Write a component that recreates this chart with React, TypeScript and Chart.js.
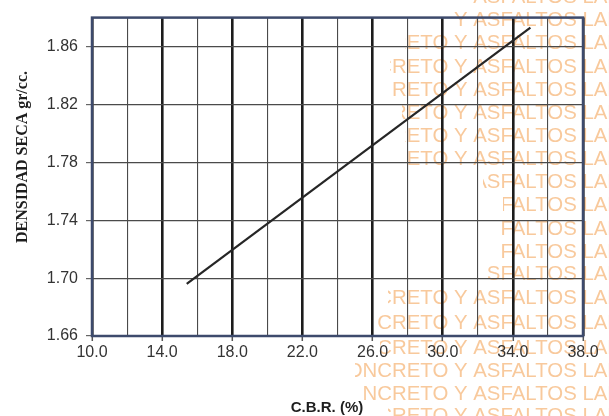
import React, { useEffect, useRef } from "react";
import { Chart, registerables } from "chart.js";

Chart.register(...registerables);

// ---- data ----
const xTickValues = [10, 12, 14, 16, 18, 20, 22, 24, 26, 28, 30, 32, 34, 36, 38];
const xLabelValues = [10, 14, 18, 22, 26, 30, 34, 38];
const yTickValues = [1.66, 1.7, 1.74, 1.78, 1.82, 1.86];
const lineX = [15.4, 35.0];
const lineY = [1.696, 1.873];

const xTitle = "C.B.R. (%)";
const yTitle = "DENSIDAD SECA gr/cc.";
const watermarkText = "CONCRETO Y ASFALTOS LABORATORIO";
// [row centre y, visible start x]
const watermarkRows: number[][] = [
  [-3, 470], [20, 452], [43, 405], [67, 390], [90, 393], [113, 402], [136, 405],
  [159, 408], [182, 483], [205, 503], [229, 500], [252, 500], [274, 488],
  [298, 388], [323, 378], [348, 380], [371, 355], [394, 362], [416, 388],
];

const SANS = "'Liberation Sans', Arial, sans-serif";
const SERIF = "'Liberation Serif', 'Times New Roman', serif";

const decorPlugin = {
  id: "decor",
  beforeDraw(chart: any) {
    const ctx = chart.ctx;
    ctx.save();
    ctx.font = `20.4px ${SANS}`;
    ctx.fillStyle = "rgba(244, 168, 96, 0.62)";
    ctx.textBaseline = "middle";
    ctx.textAlign = "left";
    for (const [y, start] of watermarkRows) {
      ctx.save();
      ctx.beginPath();
      ctx.rect(start, y - 14, chart.width - start, 28);
      ctx.clip();
      ctx.fillText(watermarkText, 332, y);
      ctx.restore();
    }
    ctx.restore();
  },
  afterDraw(chart: any) {
    const ctx = chart.ctx;
    const a = chart.chartArea;
    ctx.save();
    ctx.strokeStyle = "#3d4a6c";
    ctx.lineWidth = 2.5;
    ctx.strokeRect(a.left, a.top, a.right - a.left, a.bottom - a.top);

    ctx.fillStyle = "#1e1e1e";
    ctx.font = `bold 15px ${SANS}`;
    ctx.textAlign = "center";
    ctx.textBaseline = "alphabetic";
    ctx.fillText(xTitle, 327, 412);

    ctx.translate(27, 157);
    ctx.rotate(-Math.PI / 2);
    ctx.font = `bold 16px ${SERIF}`;
    ctx.fillText(yTitle, 0, 0);
    ctx.restore();
  },
};

export default function App() {
  const canvasRef = useRef<HTMLCanvasElement | null>(null);

  useEffect(() => {
    if (!canvasRef.current) return;
    const chart = new Chart(canvasRef.current, {
      type: "line",
      data: {
        datasets: [
          {
            data: lineX.map((x, i) => ({ x, y: lineY[i] })),
            borderColor: "#262626",
            borderWidth: 2.2,
            pointRadius: 0,
            fill: false,
            tension: 0,
          },
        ],
      },
      options: {
        animation: false,
        responsive: true,
        maintainAspectRatio: false,
        layout: { padding: { left: 0, top: 10, right: 26, bottom: 0 } },
        plugins: { legend: { display: false }, tooltip: { enabled: false } },
        scales: {
          x: {
            type: "linear",
            min: 10,
            max: 38,
            afterBuildTicks: (scale: any) => {
              scale.ticks = xTickValues.map((v) => ({ value: v }));
            },
            afterFit: (scale: any) => {
              scale.height = 80;
            },
            border: { display: false },
            grid: {
              color: (c: any) => ((c.tick?.value ?? 0) % 4 === 2 ? "#1c1c1c" : "#4a4a4a"),
              lineWidth: (c: any) => ((c.tick?.value ?? 0) % 4 === 2 ? 2.6 : 1.1),
              tickColor: (c: any) => ((c.tick?.value ?? 0) % 4 === 2 ? "#555" : "rgba(0,0,0,0)"),
              tickWidth: 1.5,
              tickLength: 5,
              drawTicks: true,
            },
            ticks: {
              autoSkip: false,
              maxRotation: 0,
              padding: 2,
              color: "#333",
              font: { family: SANS, size: 16 },
              callback: (v: any) => (xLabelValues.includes(Number(v)) ? Number(v).toFixed(1) : ""),
            },
          },
          y: {
            type: "linear",
            min: 1.66,
            max: 1.88,
            afterBuildTicks: (scale: any) => {
              scale.ticks = yTickValues.map((v) => ({ value: v }));
            },
            afterFit: (scale: any) => {
              scale.width = 92;
            },
            border: { display: false },
            grid: {
              color: "#4a4a4a",
              lineWidth: 1.2,
              tickColor: "#666",
              tickLength: 6,
              tickWidth: 1.2,
            },
            ticks: {
              autoSkip: false,
              padding: 8,
              color: "#333",
              font: { family: SANS, size: 16 },
              callback: (v: any) => Number(v).toFixed(2),
            },
          },
        },
      },
      plugins: [decorPlugin],
    } as any);
    return () => chart.destroy();
  }, []);

  return (
    <div style={{ position: "fixed", left: 0, top: 0, width: 609, height: 416, background: "#fff" }}>
      <canvas ref={canvasRef} />
    </div>
  );
}
